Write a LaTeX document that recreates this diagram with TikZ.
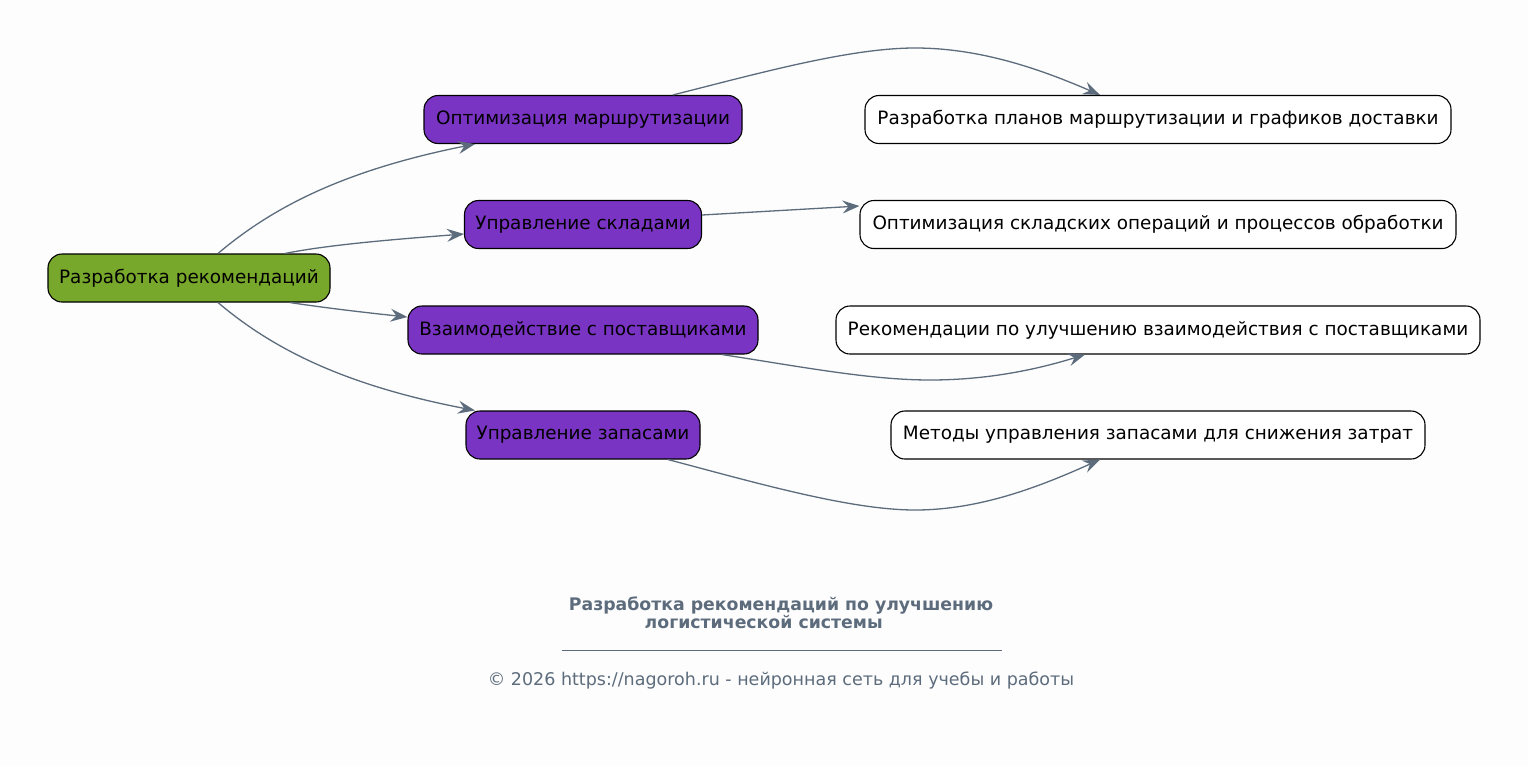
\documentclass[tikz,border=0pt]{standalone}
\usepackage{fontspec}
\setmainfont{DejaVu Sans}
\usetikzlibrary{arrows.meta}
\definecolor{bg}{HTML}{FDFDFD}
\definecolor{rootgreen}{HTML}{78A82B}
\definecolor{midpurple}{HTML}{7A34C4}
\definecolor{edgeslate}{HTML}{5D6C7C}
\tikzset{
  box/.style={draw=black, line width=1.1pt, rounded corners=14pt, minimum height=48pt, inner sep=0pt,
    font=\fontsize{18.4}{22}\selectfont, text=black},
  rootbox/.style={box, fill=rootgreen},
  midbox/.style={box, fill=midpurple},
  leafbox/.style={box, fill=white},
  link/.style={draw=edgeslate, line width=1.3pt, -{Stealth[length=17pt,width=13pt,inset=6pt]}},
}
\begin{document}
\begin{tikzpicture}[x=1pt,y=-1pt]
\useasboundingbox (0,0) rectangle (1528,766);
\fill[bg] (0,0) rectangle (1528,766);

\node[rootbox, minimum width=282pt] (root) at (189,278) {Разработка рекомендаций};

\node[midbox, minimum width=318pt] (opt) at (583,119.5) {Оптимизация маршрутизации};
\node[midbox, minimum width=237pt] (skl) at (583,224.5) {Управление складами};
\node[midbox, minimum width=350pt] (vz) at (583,330) {Взаимодействие с поставщиками};
\node[midbox, minimum width=234pt] (zap) at (583,435) {Управление запасами};

\node[leafbox, minimum width=586pt] (plan) at (1158,119.5) {Разработка планов маршрутизации и графиков доставки};
\node[leafbox, minimum width=596pt] (ops) at (1158,224.5) {Оптимизация складских операций и процессов обработки};
\node[leafbox, minimum width=644pt] (rec) at (1158,330) {Рекомендации по улучшению взаимодействия с поставщиками};
\node[leafbox, minimum width=534pt] (met) at (1158,435) {Методы управления запасами для снижения затрат};

% root -> middle
\draw[link] ([xshift=29pt]root.north) .. controls +(52,-44) and +(-135,27) .. ([xshift=-108pt]opt.south);
\draw[link] ([xshift=96pt]root.north) .. controls +(45,-9) and +(-65,5) .. ([yshift=-9.5pt]skl.west);
\draw[link] ([xshift=101pt]root.south) .. controls +(40,6) and +(-38,-4) .. ([yshift=13pt]vz.west);
\draw[link] ([xshift=29pt]root.south) .. controls +(52,44) and +(-135,-26) .. ([xshift=-108pt]zap.north);

% middle -> leaves
\coordinate (top1) at (915,48);
\draw[link] ([xshift=90pt]opt.north) .. controls +(87,-22) and +(-65,0) .. (top1)
  .. controls +(65,0) and +(-60,-26) .. ([xshift=-58pt]plan.north);
\draw[link] ([yshift=9.5pt]skl.east) -- ([yshift=18.5pt]ops.west);
\coordinate (bot1) at (930,380);
\draw[link] ([xshift=139pt]vz.south) .. controls +(78,12) and +(-60,0) .. (bot1)
  .. controls +(60,0) and +(-45,14) .. ([xshift=-73pt]rec.south);
\coordinate (bot2) at (915,510);
\draw[link] ([xshift=85pt]zap.south) .. controls +(87,23) and +(-65,0) .. (bot2)
  .. controls +(65,0) and +(-60,27) .. ([xshift=-58pt]met.south);

% title and footer
\node[text=edgeslate, font=\fontsize{17.3}{18.5}\selectfont\bfseries, align=center] (title) at (781,613)
  {Разработка рекомендаций по улучшению\\логистической системы\hspace*{2em}};
\coordinate (ruleL) at (562,650);
\coordinate (ruleR) at (1002,650);
\draw[edgeslate, line width=0.8pt] (ruleL) -- (ruleR);
\node[text=edgeslate, font=\fontsize{17.5}{20}\selectfont] (foot) at (781,681)
  {© 2026 https://nagoroh.ru - нейронная сеть для учебы и работы};
\end{tikzpicture}
\end{document}
